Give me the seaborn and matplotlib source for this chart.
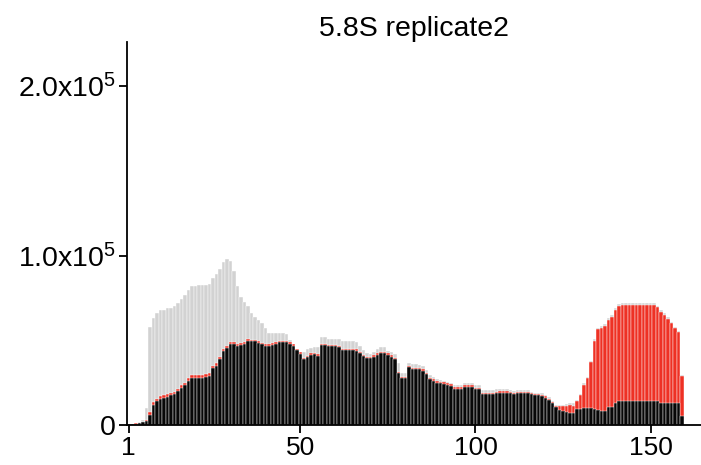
import matplotlib
matplotlib.use("Agg")
import matplotlib.pyplot as plt
import seaborn as sns
import pandas as pd
import numpy as np

# ---- data (values in thousands of reads) ----
black_k = [
    0.3, 0.5, 0.8, 1.2, 1.8, 2.4,
    6.0, 12.0, 14.0, 15.5, 16.0, 16.7, 17.5, 18.0, 20.0, 22.0, 23.4, 26.0, 28.0,
    28.0, 28.0, 28.0, 28.5, 29.0, 33.4, 35.0, 39.0, 43.7, 45.6, 48.0, 48.0, 46.6, 47.0, 48.0, 49.4,
    49.4, 49.4, 48.5, 47.6, 46.8, 46.6, 47.2, 48.0, 48.8, 48.8, 48.8, 48.0, 46.6, 44.0, 42.0, 38.8, 40.0, 41.3, 41.7, 41.0,
    47.0, 47.0, 46.6, 46.6, 46.6, 46.0, 44.0, 44.0, 44.0, 44.0, 43.8, 42.3, 40.7, 39.3, 39.3, 40.3, 41.3, 42.3, 42.3, 41.3, 40.3, 38.7, 30.5, 27.5, 27.5,
    34.0, 32.8, 32.8, 32.8, 32.0, 29.9, 27.0, 26.0, 25.0, 24.6, 24.2, 23.6, 23.0, 21.4, 21.4, 21.5, 22.6, 22.6, 22.6, 21.0, 21.2,
    18.0, 18.0, 18.0, 18.0, 18.6, 19.0, 19.0, 19.0, 18.7, 18.0, 18.7, 18.7, 18.7, 18.7, 18.0, 17.5, 17.5, 17.0, 16.0, 14.7, 12.7,
    10.4, 8.8, 8.3, 7.7, 7.3, 7.3, 9.3, 9.6, 10.2, 9.8, 9.8, 9.3, 8.8, 8.3, 8.3, 10.4, 10.8, 13.2, 14.3,
    14.3, 14.3, 14.3, 14.3, 14.3, 14.3, 14.3, 14.3, 14.3, 14.3, 14.3,
    13.2, 13.2, 13.2, 13.2, 13.2, 13.2,
    5.3,
]

red_k = [
    0.4, 0.6, 0.9, 1.3, 2.0, 2.8,
    7.5, 13.5, 15.5, 17.0, 17.5, 18.0, 19.0, 19.5, 21.5, 23.5, 25.0, 27.5, 29.5,
    29.5, 29.5, 29.5, 30.0, 30.5, 34.8, 36.4, 40.3, 45.0, 46.8, 49.2, 49.2, 47.8, 48.2, 49.2, 50.5,
    50.4, 50.4, 49.5, 48.6, 47.8, 47.6, 48.2, 49.0, 49.8, 49.8, 49.8, 49.0, 47.6, 45.0, 43.0, 39.8, 41.0, 42.2, 42.6, 42.0,
    48.0, 48.0, 47.5, 47.5, 47.5, 46.9, 44.9, 44.9, 44.9, 44.9, 44.7, 43.2, 41.6, 40.2, 40.2, 41.2, 42.2, 43.2, 43.2, 42.2, 41.2, 39.6, 31.4, 28.4, 28.4,
    34.9, 33.7, 33.7, 33.7, 32.9, 30.8, 27.9, 26.9, 25.9, 25.5, 25.1, 24.5, 23.9, 22.3, 22.3, 22.4, 23.5, 23.5, 23.5, 21.9, 22.1,
    18.9, 18.9, 18.9, 18.9, 19.5, 19.9, 19.9, 19.9, 19.6, 18.9, 19.6, 19.6, 19.6, 19.6, 18.9, 18.4, 18.4, 17.9, 16.9, 15.6, 13.6,
    11.0, 11.0, 11.0, 11.4, 11.8, 11.5, 14.0, 17.5, 23.5, 27.5, 37.0, 49.5, 56.5, 57.5, 58.5, 62.0, 64.0, 67.8, 70.2,
    71.0, 71.0, 71.0, 71.0, 71.0, 71.0, 71.0, 71.0, 71.0, 71.0, 69.5,
    66.8, 65.0, 62.3, 60.0, 57.0, 54.6,
    29.0,
]

gray_k = [
    0.4, 0.6, 1.0, 1.5, 3.0, 10.0,
    58.0, 63.0, 66.0, 68.0, 68.0, 69.0, 69.0, 70.0, 72.0, 74.5, 77.0, 79.5, 82.0,
    82.0, 82.5, 82.5, 82.5, 83.0, 86.5, 89.0, 92.0, 96.0, 98.0, 97.0, 91.0, 82.0, 75.6, 72.7, 70.0,
    66.0, 64.0, 62.0, 60.0, 57.0, 54.0, 54.0, 54.0, 54.0, 54.0, 53.5, 50.0, 47.0, 44.5, 43.0, 43.0, 45.0, 45.5, 46.0, 46.0,
    52.0, 52.0, 51.0, 51.0, 51.0, 51.0, 49.7, 49.7, 49.7, 49.7, 49.0, 46.6, 44.0, 42.3, 42.0, 43.0, 45.0, 46.0, 46.0, 43.8, 43.0, 42.0, 36.4, 30.5, 30.5,
    36.8, 36.0, 36.0, 35.5, 35.0, 32.5, 29.5, 28.5, 27.0, 26.5, 26.0, 25.5, 25.0, 23.5, 23.5, 23.5, 25.0, 25.0, 25.0, 23.5, 23.5,
    20.6, 20.6, 20.6, 20.6, 21.0, 21.0, 21.0, 21.0, 20.6, 20.0, 20.6, 20.6, 20.6, 20.6, 19.7, 19.0, 19.0, 19.0, 17.7, 16.3, 14.3,
    11.8, 11.8, 12.0, 12.5, 12.8, 12.7, 15.0, 18.5, 24.5, 28.5, 38.0, 50.6, 57.5, 58.5, 59.5, 63.0, 65.0, 69.0, 71.5,
    72.0, 72.0, 72.0, 72.0, 72.0, 72.0, 72.0, 72.0, 72.0, 72.0, 70.5,
    68.0, 66.0, 63.5, 61.0, 58.0, 55.5,
    29.5,
]

positions = list(range(1, len(black_k) + 1))
x_ticks = [1, 50, 100, 150]
x_ticklabels = ["1", "50", "100", "150"]
y_ticks = [0, 100000, 200000]
y_ticklabels = ["0", r"$\mathregular{1.0x10^{5}}$", r"$\mathregular{2.0x10^{5}}$"]
title = "5.8S replicate2"

df = pd.DataFrame({
    "position": positions,
    "gray": np.array(gray_k) * 1000,
    "red": np.array(red_k) * 1000,
    "black": np.array(black_k) * 1000,
})

sns.set_style("ticks")
plt.rcParams["font.family"] = ["Liberation Sans", "DejaVu Sans"]
plt.rcParams["mathtext.default"] = "regular"
plt.rcParams["text.color"] = "black"

fig = plt.figure(figsize=(7.01, 4.65), dpi=100)
ax = fig.add_axes([127 / 701, 1 - 425 / 465, (701 - 127) / 701, (425 - 42) / 465])

for col, colr in [("gray", "#d2d2d2"), ("red", "#ee3124"), ("black", "#070707")]:
    sns.barplot(data=df, x="position", y=col, native_scale=True, width=1.0,
                color=colr, saturation=1, edgecolor="white", linewidth=0.3,
                errorbar=None, ax=ax)

ax.set_xlim(0.5, 164.4)
ax.set_ylim(0, 226000)
ax.set_xticks(x_ticks)
ax.set_xticklabels(x_ticklabels)
ax.set_yticks(y_ticks)
ax.set_yticklabels(y_ticklabels)
ax.set_xlabel("")
ax.set_ylabel("")
ax.set_title(title, fontsize=20.5, pad=3, color="black")

for s in ["top", "right"]:
    ax.spines[s].set_visible(False)
for s in ["left", "bottom"]:
    ax.spines[s].set_linewidth(1.3)
    ax.spines[s].set_color("black")
ax.tick_params(axis="both", direction="out", length=6, width=1.3,
               colors="black", pad=2)
ax.tick_params(axis="x", labelsize=19)
ax.tick_params(axis="y", labelsize=20.5)

fig.savefig("out.png", dpi=100)
